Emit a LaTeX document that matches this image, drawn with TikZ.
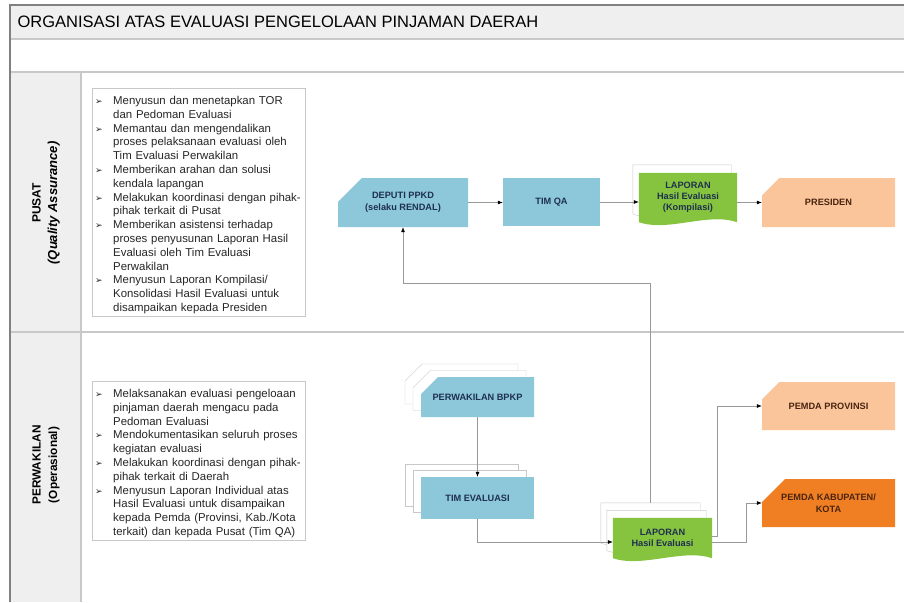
\documentclass[tikz,border=0pt]{standalone}
\usepackage{fontspec}
\setmainfont{Liberation Sans}
\newfontfamily\panahfont{DejaVu Sans}
\usetikzlibrary{shapes.misc,shadows,arrows.meta,calc,backgrounds}

\definecolor{birumuda}{HTML}{8CC8DA}
\definecolor{hijau}{HTML}{86C440}
\definecolor{oranyemuda}{HTML}{FAC59A}
\definecolor{oranye}{HTML}{F07F24}
\definecolor{abuband}{HTML}{EFEFEF}
\definecolor{garis}{HTML}{C8C8C8}
\definecolor{teksbiru}{HTML}{1F2F4F}
\definecolor{teksoranye}{HTML}{4A2410}

% butir daftar dengan panah
\newcommand{\butir}{\par\noindent\hangindent=18pt\hangafter=1%
  \makebox[18pt][l]{\panahfont\fontsize{9}{9}\selectfont ➢}}

% bentuk dokumen (bawah bergelombang) di belakang node
\newcommand{\dokumen}[3]{%
  \path[#3, transform canvas={shift={#2}}] (#1.north west) -- (#1.north east) -- (#1.south east)
    .. controls ($(#1.south east)!0.3!(#1.south west)+(0,10pt)$) and ($(#1.south east)!0.7!(#1.south west)+(0,-10pt)$) .. (#1.south west) -- cycle;}

\begin{document}
\begin{tikzpicture}[x=1pt, y=-1pt, >={Latex[length=5pt,width=4pt,color=black]},
    garislane/.style={draw=garis, line width=1.2pt},
    proses/.style={rectangle, fill=birumuda, text=teksbiru, font=\fontsize{9.2}{11.5}\selectfont\bfseries, align=center, inner sep=2pt},
    pihak/.style={chamfered rectangle, chamfered rectangle corners=north west, chamfered rectangle sep=12pt, text=teksbiru, font=\fontsize{9.2}{11.5}\selectfont\bfseries, align=center, inner sep=2pt},
    dok/.style={rectangle, text=teksbiru, font=\fontsize{9.2}{11}\selectfont\bfseries, align=center, inner sep=2pt},
    catatan/.style={draw=garis, fill=white, anchor=north west, text width=207pt, align=left, font=\fontsize{11.4}{13.8}\selectfont, inner xsep=3pt, inner ysep=2.5pt, text=black!85},
    alur/.style={draw=gray!80, line width=0.6pt, ->},
    tumpuk/.style={double copy shadow={shadow xshift=-8pt, shadow yshift=6.5pt, fill=white, draw=garis}}]
    \useasboundingbox (0,0) rectangle (904,602);

    % Swimlane
    \fill[abuband] (10,5) rectangle (904,39);
    \fill[abuband] (10,72) rectangle (81,602);
    \draw[garislane] (10,39) -- (904,39);
    \draw[garislane] (10,72) -- (904,72);
    \draw[garislane] (10,332) -- (904,332);
    \draw[garislane] (81,72) -- (81,602);
    \draw[draw=gray, line width=1.5pt] (10,602) -- (10,5) -- (904,5);

    \node[anchor=west, font=\fontsize{16.5}{16.5}\selectfont] (judul) at (14,22) {ORGANISASI ATAS EVALUASI PENGELOLAAN PINJAMAN DAERAH};
    \node[rotate=90, align=center, font=\bfseries\fontsize{12}{16.5}\selectfont] (pusat) at (46,203) {PUSAT\\\fontsize{13}{16.5}\selectfont\textit{(Quality Assurance)}};
    \node[rotate=90, align=center, font=\bfseries\fontsize{11.8}{16.5}\selectfont] (perwakilan) at (46,465) {PERWAKILAN\\(Operasional)};

    % Tugas
    \node[catatan] (tugaspusat) at (92,88) {%
        \butir Menyusun dan menetapkan TOR\newline dan Pedoman Evaluasi
        \butir Memantau dan mengendalikan\newline proses pelaksanaan evaluasi oleh\newline Tim Evaluasi Perwakilan
        \butir Memberikan arahan dan solusi\newline kendala lapangan
        \butir Melakukan koordinasi dengan pihak-\newline pihak terkait di Pusat
        \butir Memberikan asistensi terhadap\newline proses penyusunan Laporan Hasil\newline Evaluasi oleh Tim Evaluasi\newline Perwakilan
        \butir Menyusun Laporan Kompilasi/\newline Konsolidasi Hasil Evaluasi untuk\newline disampaikan kepada Presiden\par};
    \node[catatan] (tugasperwakilan) at (92,381) {%
        \butir Melaksanakan evaluasi pengeloaan\newline pinjaman daerah mengacu pada\newline Pedoman Evaluasi
        \butir Mendokumentasikan seluruh proses\newline kegiatan evaluasi
        \butir Melakukan koordinasi dengan pihak-\newline pihak terkait di Daerah
        \butir Menyusun Laporan Individual atas\newline Hasil Evaluasi untuk disampaikan\newline kepada Pemda (Provinsi, Kab./Kota\newline terkait) dan kepada Pusat (Tim QA)\par};

    % Alur pusat
    \node[pihak, fill=birumuda, minimum width=130pt, minimum height=49pt] (deputi) at (403,202.5) {DEPUTI PPKD\\(selaku RENDAL)};
    \node[proses, minimum width=97pt, minimum height=48pt] (timqa) at (551.5,202) {TIM QA};
    \node[dok, minimum width=98pt, minimum height=49pt] (lapkomp) at (688,197.5) {LAPORAN\\Hasil Evaluasi\\(Kompilasi)};
    \node[pihak, fill=oranyemuda, text=teksoranye, minimum width=133pt, minimum height=49pt] (presiden) at (828.5,202.5) {PRESIDEN};

    % Alur perwakilan
    \node[pihak, tumpuk, fill=birumuda, minimum width=113pt, minimum height=40pt] (bpkp) at (477.5,397) {PERWAKILAN BPKP};
    \node[proses, tumpuk, minimum width=113pt, minimum height=42pt] (timeval) at (477.5,498) {TIM EVALUASI};
    \node[dok, minimum width=99pt, minimum height=40pt] (laphasil) at (662.5,538) {LAPORAN\\Hasil Evaluasi};
    \node[pihak, fill=oranyemuda, text=teksoranye, minimum width=133pt, minimum height=48pt] (provinsi) at (828.5,406) {PEMDA PROVINSI};
    \node[pihak, fill=oranye, text=teksoranye, minimum width=133pt, minimum height=48pt] (kabkota) at (828.5,503) {PEMDA KABUPATEN/\\KOTA};

    \begin{scope}[on background layer]
        \dokumen{lapkomp}{(-6pt,8pt)}{fill=white, draw=garis}
        \dokumen{lapkomp}{(0pt,0pt)}{fill=hijau}
        \dokumen{laphasil}{(-12pt,15pt)}{fill=white, draw=garis}
        \dokumen{laphasil}{(-6pt,7.5pt)}{fill=white, draw=garis}
        \dokumen{laphasil}{(0pt,0pt)}{fill=hijau}
    \end{scope}

    % Panah
    \draw[alur] (deputi.east) -- (deputi.east -| timqa.west);
    \draw[alur] (timqa.east) -- (timqa.east -| lapkomp.west);
    \draw[alur] (presiden.west -| lapkomp.east) -- (presiden.west);
    \draw[alur] (bpkp) -- (timeval);
    \draw[alur] (timeval.south) |- ([yshift=-4pt]laphasil.west);
    \draw[alur] ([yshift=2pt]laphasil.east) -- ++(5,0) |- (provinsi.west);
    \draw[alur] ([yshift=-4pt]laphasil.east) -- ++(34,0) |- (kabkota.west);
    \draw[alur] ([shift={(-12pt,15pt)}]laphasil.north) -- ++(0,-220) -| (deputi.south);
\end{tikzpicture}
\end{document}
